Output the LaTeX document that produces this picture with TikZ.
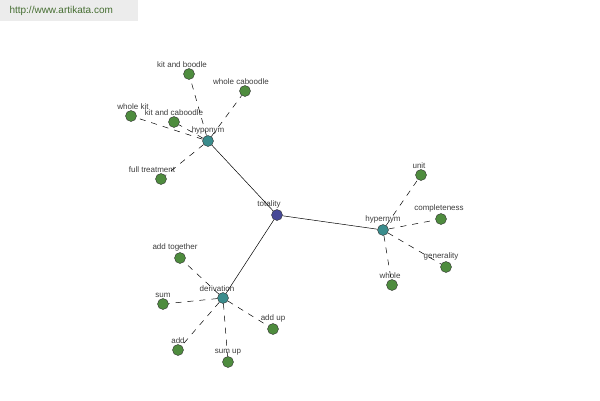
\documentclass[tikz,border=0pt]{standalone}
\usepackage{fontspec}
\setmainfont{Liberation Sans}
\usetikzlibrary{positioning}

\definecolor{leafgreen}{RGB}{78,140,62}
\definecolor{hubteal}{RGB}{58,140,140}
\definecolor{rootblue}{RGB}{70,72,150}
\definecolor{labgrey}{RGB}{60,60,60}
\definecolor{markbg}{RGB}{236,236,236}
\definecolor{markfg}{RGB}{70,110,50}

\begin{document}
\begin{tikzpicture}[
  x=1pt, y=-1pt,
  font=\fontsize{8}{9.5}\selectfont,
  lbl/.style={text=labgrey, font=\fontsize{8}{9.5}\selectfont, inner sep=1pt, label distance=0pt},
  leaf/.style={circle, draw=black!80, fill=leafgreen, line width=0.4pt, minimum size=11pt, inner sep=0pt},
  hub/.style={circle, draw=black!80, fill=hubteal, line width=0.4pt, minimum size=11pt, inner sep=0pt},
  root/.style={circle, draw=black!80, fill=rootblue, line width=0.4pt, minimum size=11pt, inner sep=0pt},
  rel/.style={line width=0.5pt},
  syn/.style={line width=0.5pt, dash pattern=on 6pt off 6pt}
]
\useasboundingbox (0,0) rectangle (600,400);

% watermark
\fill[markbg] (0,0) rectangle (138,21);
\node[text=markfg, font=\fontsize{10}{12}\selectfont, anchor=west] (mark) at (6,11) {http://www.artikata.com};

% root and hubs
\node[root, label={[lbl, xshift=-8pt]above:totality}] (totality) at (277,215) {};
\node[hub, label={[lbl]above:hyponym}] (hyponym) at (208,141) {};
\node[hub, label={[lbl]above:hypernym}] (hypernym) at (383,230) {};
\node[hub, label={[lbl, xshift=-6pt]above:derivation}] (derivation) at (223,298) {};

% hyponym leaves
\node[leaf, label={[lbl, xshift=-7pt]above:kit and boodle}] (kitboodle) at (189,74) {};
\node[leaf, label={[lbl, xshift=-4pt]above:whole caboodle}] (wholecaboodle) at (245,91) {};
\node[leaf, label={[lbl, xshift=2pt]above:whole kit}] (wholekit) at (131,116) {};
\node[leaf, label={[lbl]above:kit and caboodle}] (kitcaboodle) at (174,122) {};
\node[leaf, label={[lbl, xshift=-9pt]above:full treatment}] (fulltreatment) at (161,179) {};

% hypernym leaves
\node[leaf, label={[lbl, xshift=-2pt]above:unit}] (unit) at (421,175) {};
\node[leaf, label={[lbl, xshift=-2pt]above:completeness}] (completeness) at (441,219) {};
\node[leaf, label={[lbl, xshift=-5pt]above:generality}] (generality) at (446,267) {};
\node[leaf, label={[lbl, xshift=-2pt]above:whole}] (whole) at (392,285) {};

% derivation leaves
\node[leaf, label={[lbl, xshift=-5pt]above:add together}] (addtogether) at (180,258) {};
\node[leaf, label={[lbl]above:sum}] (sum) at (163,304) {};
\node[leaf, label={[lbl]above:add}] (add) at (178,350) {};
\node[leaf, label={[lbl]above:sum up}] (sumup) at (228,362) {};
\node[leaf, label={[lbl]above:add up}] (addup) at (273,329) {};

% relations
\draw[rel] (totality) -- (hyponym);
\draw[rel] (totality) -- (hypernym);
\draw[rel] (totality) -- (derivation);

% synonyms
\draw[syn] (hyponym) -- (kitboodle);
\draw[syn] (hyponym) -- (wholecaboodle);
\draw[syn] (hyponym) -- (wholekit);
\draw[syn] (hyponym) -- (kitcaboodle);
\draw[syn] (hyponym) -- (fulltreatment);
\draw[syn] (hypernym) -- (unit);
\draw[syn] (hypernym) -- (completeness);
\draw[syn] (hypernym) -- (generality);
\draw[syn] (hypernym) -- (whole);
\draw[syn] (derivation) -- (addtogether);
\draw[syn] (derivation) -- (sum);
\draw[syn] (derivation) -- (add);
\draw[syn] (derivation) -- (sumup);
\draw[syn] (derivation) -- (addup);

\end{tikzpicture}
\end{document}
